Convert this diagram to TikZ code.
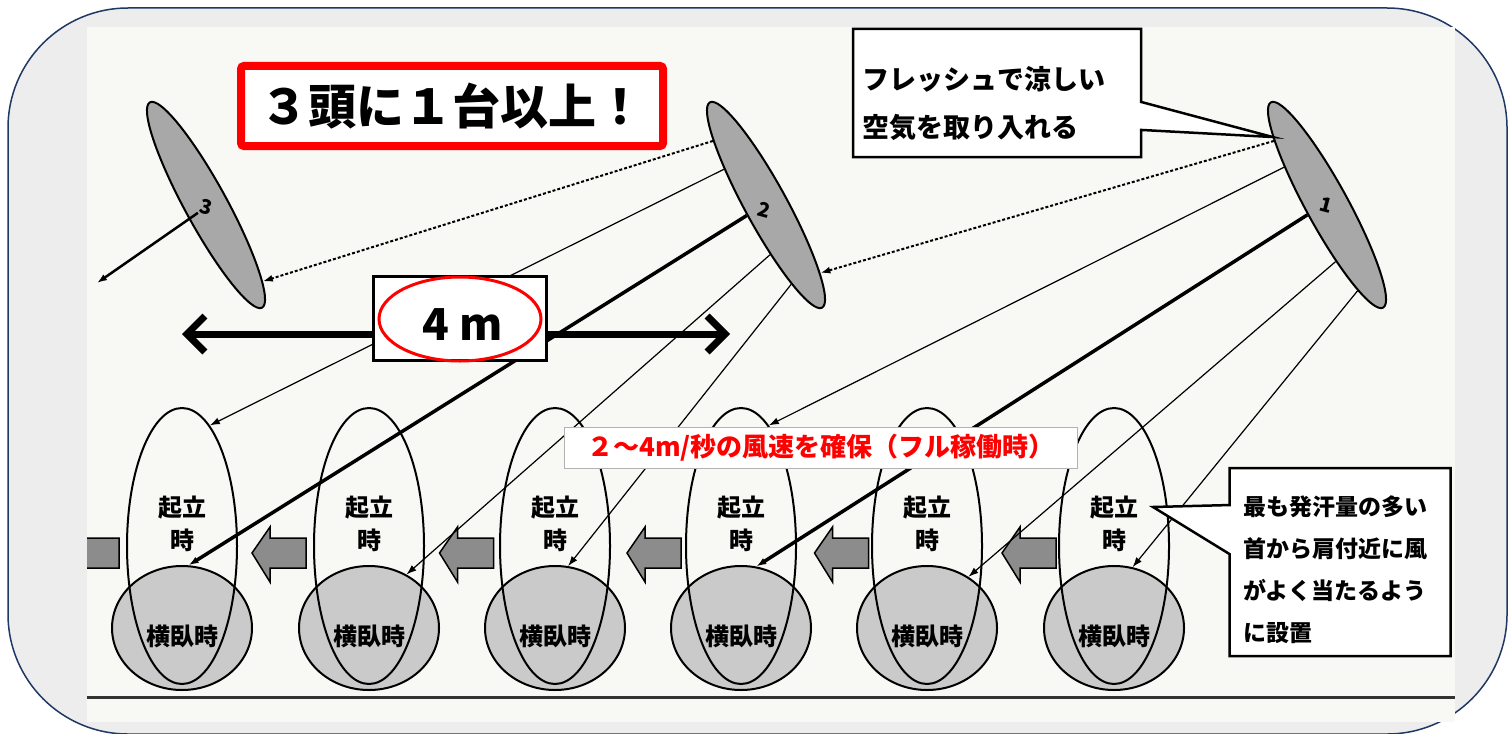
\documentclass[tikz,border=0pt]{standalone}
\usepackage{fontspec}
\usepackage{tikz}
\usetikzlibrary{shapes.geometric,shapes.callouts,arrows.meta}
\newfontfamily\jp{Noto Sans CJK JP}
\definecolor{framenavy}{HTML}{1F3864}
\definecolor{framebg}{HTML}{EDEDED}
\definecolor{paper}{HTML}{F8F8F5}
\definecolor{fangray}{HTML}{A8A8A8}
\definecolor{lyinggray}{HTML}{CACACA}
\definecolor{arrowgray}{HTML}{8C8C8C}
\definecolor{alert}{HTML}{FF0000}

\tikzset{
  fan/.style={ellipse, draw, line width=2, fill=fangray, minimum width=234, minimum height=42, inner sep=0, rotate=-61.35},
  fannum/.style={font=\jp\bfseries\fontsize{20}{20}\selectfont, inner sep=0, rotate=-15},
  standing/.style={ellipse, draw, line width=2, minimum width=110, minimum height=276, inner sep=0},
  lying/.style={ellipse, draw, line width=2, fill=lyinggray, minimum width=140, minimum height=124, inner sep=0},
  cowtext/.style={font=\jp\bfseries\fontsize{24}{33}\selectfont, align=center, inner sep=0},
  blockarrow/.style={draw, line width=1.5, fill=arrowgray},
  airline/.style={-{Latex[length=10pt,width=7pt]}, line width=1.2},
  airthick/.style={airline, line width=3.5},
  airdot/.style={airline, line width=2, dash pattern=on 3pt off 2pt},
  callbox/.style={rectangle callout, draw, line width=2.5, fill=white, inner sep=0},
  notetext/.style 2 args={font=\jp\bfseries\fontsize{#1}{#2}\selectfont, align=left, inner sep=0, anchor=west},
}

\begin{document}
\begin{tikzpicture}[x=1pt, y=-1pt]
  \useasboundingbox (0,0) rectangle (1511,733);
  \fill[white] (0,0) rectangle (1511,733);
  \draw[draw=framenavy, line width=1.5, fill=framebg, rounded corners=120] (8,8) rectangle (1507,734);
  \fill[paper] (87,27) rectangle (1455,722);

  % cows: lying circle under the standing outline
  \foreach \i/\x in {1/182,2/369,3/555,4/741,5/927,6/1114} {
    \node[lying] (h\i) at (\x,628) {};
    \node[standing] (s\i) at (\x,546) {};
    \node[cowtext] (t\i) at (\x,524) {起立\\時};
    \node[cowtext] (l\i) at (\x,636) {横臥時};
  }
  \begin{scope}
    \clip (87,27) rectangle (1455,722);
    \foreach \x in {65,252,439.5,627,814.5,1002}
      \draw[blockarrow] (\x,553) -- ++(18,-26) -- ++(0,11) -- ++(36,0) -- ++(0,30) -- ++(-36,0) -- ++(0,14) -- cycle;
  \end{scope}
  \draw[line width=3, black!80] (87,697) -- (1455,697);

  % fans
  \node[fan] (f3) at (206,205) {};
  \node[fan] (f2) at (766,205) {};
  \node[fan] (f1) at (1327,205) {};
  \node[fannum] (n3) at (206,207) {3};
  \node[fannum] (n2) at (764,210) {2};
  \node[fannum] (n1) at (1326,205) {1};

  \coordinate (wind3) at (97,283);
  \draw[airline, line width=2.5] (n3.south west) -- (wind3);
  \draw[airdot] (f2.191) -- (f3.8);
  \draw[airdot] (f1.191) -- (f2.10);
  \draw[airline] (f2.201) -- (s1.77);
  \draw[airthick] (f2.270) -- (h1.84);
  \draw[airline] (f2.336) -- (h2.55);
  \draw[airline] (f2.349) -- (h3.78);
  \draw[airline] (f1.200) -- (s4.77);
  \draw[airthick] (f1.268) -- (h4.76);
  \draw[airline] (f1.340) -- (h5.51);
  \draw[airline] (f1.351) -- (h6.73);

  % spacing between fans
  \coordinate (span-l) at (182,334);
  \coordinate (span-r) at (730,334);
  \draw[line width=7, {Straight Barb[length=18pt,width=36pt]}-{Straight Barb[length=18pt,width=36pt]}] (span-l) -- (span-r);
  \node[draw, line width=3, fill=white, minimum width=173, minimum height=84, inner sep=0] (span) at (460,318) {};
  \node[ellipse, draw=alert, line width=3, minimum width=162, minimum height=84, inner sep=0] (spanring) at (460,319) {};
  \node[font=\jp\bfseries\fontsize{44}{44}\selectfont, inner sep=0] (spanlabel) at (463,325) {4 m};

  \node[draw=alert, line width=8, fill=white, rounded corners=3, minimum width=422, minimum height=80, inner sep=0,
    font=\jp\bfseries\fontsize{48}{48}\selectfont] (rule) at (452,106) {３頭に１台以上！};

  \node[draw=black!30, line width=1, fill=white, minimum width=513, minimum height=41, inner sep=0,
    text=alert, font=\jp\bfseries\fontsize{26}{26}\selectfont] (speed) at (821,448) {２～4m/秒の風速を確保（フル稼働時）};

  % callouts
  \node[callbox, minimum width=288, minimum height=128, callout absolute pointer={(f1.190)}, callout pointer width=28] (fresh) at (997,93) {};
  \node[notetext={27}{48}] (freshtext) at (862,104) {フレッシュで涼しい\\空気を取り入れる};

  \coordinate (tip6) at (1153,507);
  \node[callbox, minimum width=221, minimum height=188, callout absolute pointer={(tip6)}, callout pointer width=49] (sweat) at (1340,562) {};
  \node[notetext={23}{42}] (sweattext) at (1243,570) {最も発汗量の多い\\首から肩付近に風\\がよく当たるよう\\に設置};
\end{tikzpicture}
\end{document}
